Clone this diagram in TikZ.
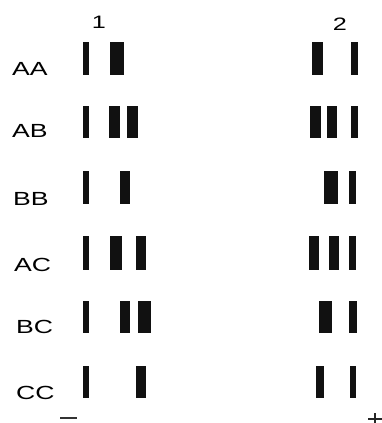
\documentclass[tikz,border=0pt]{standalone}
\usepackage{fontspec}
\setmainfont{Liberation Sans}
\definecolor{bandc}{HTML}{111111}
\tikzset{
  band/.style={fill=bandc, draw=none},
  lbl/.style={anchor=base west, inner sep=0pt, font=\fontsize{19}{19}\selectfont},
  lane/.style={anchor=base, inner sep=0pt, font=\fontsize{18}{18}\selectfont}
}
\newcommand{\wide}[1]{\scalebox{1.4}[1]{#1}}
\begin{document}
\begin{tikzpicture}[x=1pt,y=-1pt]
\useasboundingbox (0,0) rectangle (382,423);
% lane numbers
\node[lane] (l1) at (99,28) {\wide{1}};
\node[lane] (l2) at (340,30) {\wide{2}};
% genotype labels
\node[lbl] (aa) at (12,75) {\wide{AA}};
\node[lbl] (ab) at (12,137) {\wide{AB}};
\node[lbl] (bb) at (13,205) {\wide{BB}};
\node[lbl] (ac) at (14,271) {\wide{AC}};
\node[lbl] (bc) at (16,333) {\wide{BC}};
\node[lbl] (cc) at (16,399) {\wide{CC}};
% lane 1 bands
\fill[band] (83,42) rectangle (89,75);
\fill[band] (110,42) rectangle (124,75);
\fill[band] (83,106) rectangle (89,138);
\fill[band] (109,106) rectangle (120,138);
\fill[band] (127,106) rectangle (138,138);
\fill[band] (83,171) rectangle (89,204);
\fill[band] (120,171) rectangle (130,204);
\fill[band] (83,236) rectangle (89,270);
\fill[band] (110,236) rectangle (122,270);
\fill[band] (136,236) rectangle (146,270);
\fill[band] (83,301) rectangle (89,333);
\fill[band] (120,301) rectangle (130,333);
\fill[band] (138,301) rectangle (151,333);
\fill[band] (83,366) rectangle (89,398);
\fill[band] (136,366) rectangle (146,398);
% lane 2 bands
\fill[band] (312,42) rectangle (323,75);
\fill[band] (351,42) rectangle (358,75);
\fill[band] (310,106) rectangle (321,138);
\fill[band] (327,106) rectangle (337,138);
\fill[band] (351,106) rectangle (358,138);
\fill[band] (324,171) rectangle (338,204);
\fill[band] (349,171) rectangle (356,204);
\fill[band] (309,236) rectangle (319,270);
\fill[band] (329,236) rectangle (339,270);
\fill[band] (349,236) rectangle (356,270);
\fill[band] (319,301) rectangle (332,333);
\fill[band] (349,301) rectangle (357,333);
\fill[band] (316,366) rectangle (324,398);
\fill[band] (350,366) rectangle (356,398);
% polarity signs
\draw[line width=1.5pt, draw=black!80] (60,418) -- (77,418);
\draw[line width=1.5pt, draw=black!85] (368,419) -- (382,419);
\draw[line width=1.5pt, draw=black!85] (375,413) -- (375,423);
\end{tikzpicture}
\end{document}
